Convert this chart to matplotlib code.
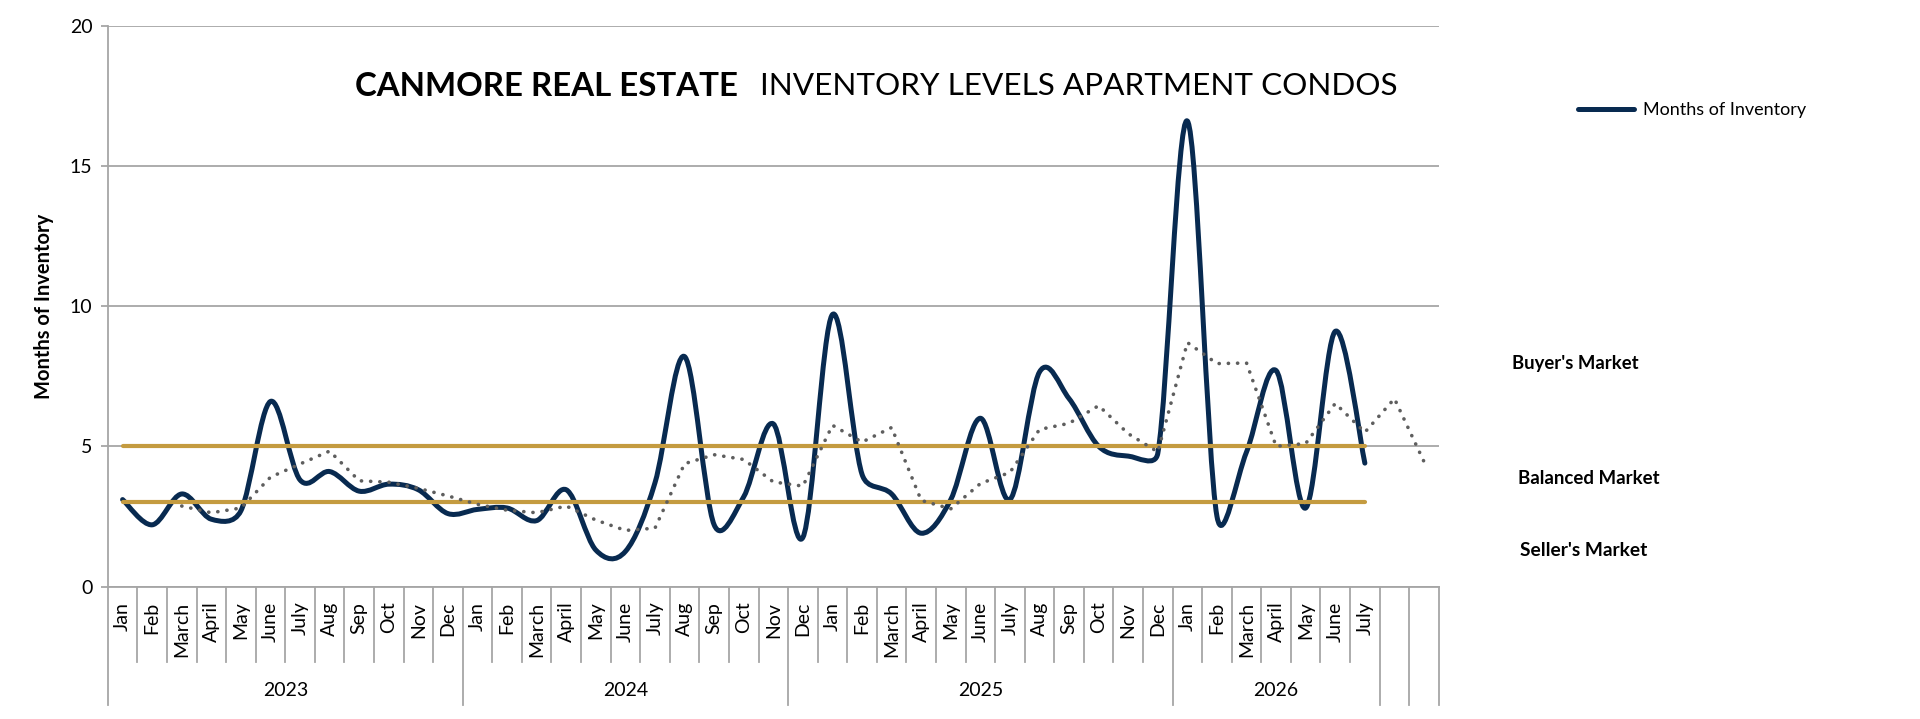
import numpy as np
import matplotlib
matplotlib.use("Agg")
import matplotlib.pyplot as plt
from matplotlib.path import Path
from matplotlib.patches import PathPatch
from matplotlib.lines import Line2D
from matplotlib.transforms import blended_transform_factory

plt.rcParams['font.family'] = ['Lato', 'DejaVu Sans']
NARROW = ['Liberation Sans Narrow', 'Lato', 'DejaVu Sans']

# ---- data ----
years = ['2023', '2024', '2025', '2026', '', '']
year_months = [
    ['Jan', 'Feb', 'March', 'April', 'May', 'June', 'July', 'Aug', 'Sep', 'Oct', 'Nov', 'Dec'],
    ['Jan', 'Feb', 'March', 'April', 'May', 'June', 'July', 'Aug', 'Sep', 'Oct', 'Nov'],
    ['Dec', 'Jan', 'Feb', 'March', 'April', 'May', 'June', 'July', 'Aug', 'Sep', 'Oct', 'Nov', 'Dec'],
    ['Jan', 'Feb', 'March', 'April', 'May', 'June', 'July'],
    [''],
    [''],
]
months_of_inventory = [3.1, 2.2, 3.3, 2.4, 2.7, 6.6, 3.8, 4.1, 3.4, 3.65, 3.45, 2.6,
                       2.75, 2.8, 2.35, 3.45, 1.3, 1.25, 3.7, 8.2, 2.2, 3.2, 5.8,
                       1.75, 9.7, 4.0, 3.3, 1.9, 3.1, 6.0, 3.1, 7.65, 6.7, 5.0, 4.65, 4.75,
                       16.6, 2.5, 4.8, 7.7, 2.8, 9.1, 4.4]
trend = [np.nan, np.nan, 2.87, 2.63, 2.8, 3.9, 4.37, 4.83, 3.77, 3.72, 3.5, 3.23,
         2.93, 2.72, 2.63, 2.87, 2.37, 2.0, 2.08, 4.38, 4.7, 4.53, 3.73,
         3.58, 5.75, 5.15, 5.67, 3.07, 2.77, 3.67, 4.07, 5.6, 5.82, 6.45, 5.45, 4.8,
         8.7, 7.95, 7.97, 5.0, 5.1, 6.53, 5.5, 6.7, 4.45]
buyers_level = 5
sellers_level = 3

NAVY = '#082A50'
GOLD = '#C49B40'
GRID = '#A6A6A6'
DOT = '#5E5E5E'

n_cat = sum(len(m) for m in year_months)

fig = plt.figure(figsize=(19.2, 7.19), dpi=100)
ax = fig.add_axes([107.8 / 1920, 1 - 586.5 / 719, 1331 / 1920, 560.8 / 719])
ax.set_xlim(-0.5, n_cat - 0.5)
ax.set_ylim(0, 20)
ax.set_yticks([0, 5, 10, 15, 20])
ax.set_xticks([])
ax.yaxis.grid(True, color=GRID, lw=1.3)
ax.set_axisbelow(True)
for s in ['top', 'right']:
    ax.spines[s].set_visible(False)
for s in ['left', 'bottom']:
    ax.spines[s].set_color(GRID)
    ax.spines[s].set_linewidth(1.3)
ax.tick_params(axis='y', length=5, width=1.3, color=GRID, labelsize=14, pad=6)


def smooth_path(ax, xs, ys):
    # Excel-like smoothed line: bezier with 1/6 chord arms, limited to half segment
    pts = ax.transData.transform(np.column_stack([xs, ys]))
    n = len(pts)
    verts = [pts[0]]
    codes = [Path.MOVETO]
    for i in range(n - 1):
        p0 = pts[i - 1] if i > 0 else pts[i]
        p1 = pts[i]
        p2 = pts[i + 1]
        p3 = pts[i + 2] if i + 2 < n else pts[i + 1]
        half = np.hypot(*(p2 - p1)) / 2
        a1 = (p2 - p0) / 6
        a2 = (p3 - p1) / 6
        l1, l2 = np.hypot(*a1), np.hypot(*a2)
        if l1 > half:
            a1 = a1 * half / l1
        if l2 > half:
            a2 = a2 * half / l2
        verts += [p1 + a1, p2 - a2, p2]
        codes += [Path.CURVE4] * 3
    return Path(ax.transData.inverted().transform(np.array(verts)), codes)


x_main = np.arange(len(months_of_inventory))
ax.add_patch(PathPatch(smooth_path(ax, x_main, months_of_inventory), fill=False,
                       edgecolor=NAVY, lw=3.6, capstyle='round', joinstyle='round', zorder=2))
ax.plot(x_main, np.full(len(x_main), buyers_level), color=GOLD, lw=3.0,
        solid_capstyle='round', zorder=3)
ax.plot(x_main, np.full(len(x_main), sellers_level), color=GOLD, lw=3.0,
        solid_capstyle='round', zorder=3)
ax.plot(np.arange(len(trend)), trend, color=DOT, lw=2.6, ls=(0, (0.05, 2.5)),
        dash_capstyle='round', zorder=4)

# multi level category axis
trans = blended_transform_factory(ax.transData, ax.transAxes)
pos = 0
ax.plot([-0.5, -0.5], [0, -0.211], transform=trans, clip_on=False, color=GRID, lw=1.3)
for yr, months in zip(years, year_months):
    start = pos
    for k, m in enumerate(months):
        ax.text(pos, -0.027, m, rotation=90, ha='center', va='top', transform=trans,
                fontsize=14)
        if k < len(months) - 1:
            ax.plot([pos + 0.5, pos + 0.5], [0, -0.134], transform=trans, clip_on=False,
                    color=GRID, lw=1.3)
        pos += 1
    ax.plot([pos - 0.5, pos - 0.5], [0, -0.211], transform=trans, clip_on=False,
            color=GRID, lw=1.3)
    ax.text((start + pos - 1) / 2, -0.185, yr, ha='center', va='center', transform=trans,
            fontsize=14)

fig.text(44 / 1920, 1 - 306 / 719, 'Months of Inventory', rotation=90, ha='center',
         va='center', fontsize=14.5, weight='bold')

fig.canvas.draw()
r = fig.canvas.get_renderer()


def fit_text(x, y, s, width, **kw):
    t = fig.text(x / 1920, 1 - y / 719, s, va='center', ha='left', fontsize=20, **kw)
    w = t.get_window_extent(r).width
    t.set_fontsize(20 * width / w)
    return t


fit_text(355, 86, 'CANMORE REAL ESTATE', 383, weight='bold', family=NARROW)
fit_text(760, 86, 'INVENTORY LEVELS APARTMENT CONDOS', 636, family=NARROW)
fit_text(1512, 364, "Buyer's Market", 126, weight='bold', family=NARROW)
fit_text(1518, 478, 'Balanced Market', 141, weight='bold', family=NARROW)
fit_text(1520, 551, "Seller's Market", 127, weight='bold', family=NARROW)

handle = Line2D([], [], color=NAVY, lw=3.6, solid_capstyle='round')
fig.legend(handles=[handle], labels=['Months of Inventory'], loc='center left',
           bbox_to_anchor=(1578 / 1920, 1 - 110 / 719), frameon=False, fontsize=13,
           handlelength=3.1, handletextpad=0.5, borderpad=0, borderaxespad=0)

fig.savefig('out.png', dpi=100)
